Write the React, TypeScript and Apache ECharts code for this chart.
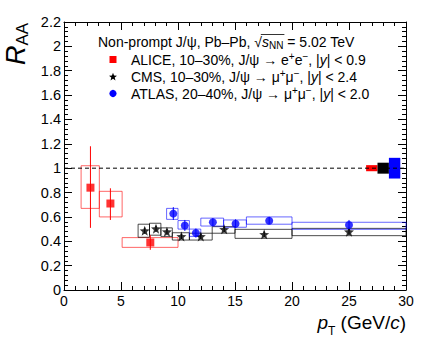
import React, { useEffect, useRef } from 'react';
import * as echarts from 'echarts';

// ALICE 10-30%, J/psi -> e+e-
const aliceX = [2.32, 4.07, 7.57];
const aliceY = [0.84, 0.71, 0.39];
const aliceStatLo = [0.51, 0.575, 0.33];
const aliceStatHi = [1.18, 0.835, 0.45];
const aliceBinLo = [1.5, 3.1, 5.1];
const aliceBinHi = [3.1, 5.1, 10.0];
const aliceSysLo = [0.67, 0.60, 0.35];
const aliceSysHi = [1.02, 0.81, 0.43];

// CMS 10-30%, J/psi -> mu+mu-
const cmsX = [7.08, 8.07, 9.03, 10.3, 12.0, 14.05, 17.56, 25.0];
const cmsY = [0.487, 0.503, 0.479, 0.44, 0.44, 0.498, 0.457, 0.479];
const cmsStatLo = [0.462, 0.478, 0.456, 0.418, 0.418, 0.474, 0.434, 0.452];
const cmsStatHi = [0.512, 0.528, 0.502, 0.462, 0.462, 0.522, 0.48, 0.506];
const cmsBinLo = [6.5, 7.5, 8.5, 9.5, 11, 13, 15, 20];
const cmsBinHi = [7.5, 8.5, 9.5, 11, 13, 15, 20, 30];
const cmsSysLo = [0.433, 0.45, 0.44, 0.41, 0.41, 0.466, 0.424, 0.446];
const cmsSysHi = [0.54, 0.548, 0.51, 0.47, 0.466, 0.52, 0.498, 0.506];

// ATLAS 20-40%, J/psi -> mu+mu-
const atlasX = [9.59, 10.6, 11.57, 13.06, 15.05, 18.0, 25.0];
const atlasY = [0.627, 0.53, 0.468, 0.556, 0.544, 0.569, 0.534];
const atlasStatLo = [0.575, 0.485, 0.43, 0.525, 0.51, 0.54, 0.49];
const atlasStatHi = [0.68, 0.575, 0.505, 0.59, 0.58, 0.60, 0.575];
const atlasBinLo = [9, 10, 11, 12, 14, 16, 20];
const atlasBinHi = [10, 11, 12, 14, 16, 20, 30];
const atlasSysLo = [0.58, 0.50, 0.44, 0.525, 0.515, 0.54, 0.498];
const atlasSysHi = [0.67, 0.57, 0.50, 0.59, 0.575, 0.60, 0.556];

// Global (normalisation) uncertainties drawn around unity
const globalLo = [26.5, 27.5, 28.5];
const globalHi = [27.5, 28.5, 29.5];
const globalUnc = [0.025, 0.045, 0.085];
const globalColors = ['#ff0000', '#000000', '#0000ff'];

const xTicks = [0, 30, 5];
const yTicks = [0, 2.2, 0.2];

const FONT = 'Liberation Sans';
const LFS = 14; // legend font size
const LSUB = 10;

const starPts = (cx: number, cy: number, R: number, r: number) => {
  const pts: number[][] = [];
  for (let k = 0; k < 10; k++) {
    const a = -Math.PI / 2 + (k * Math.PI) / 5;
    const rad = k % 2 === 0 ? R : r;
    pts.push([cx + rad * Math.cos(a), cy + rad * Math.sin(a)]);
  }
  return pts;
};
const starPath =
  'path://' +
  starPts(10, 10, 10, 4.2)
    .map((p, i) => (i === 0 ? 'M' : 'L') + p[0].toFixed(2) + ',' + p[1].toFixed(2))
    .join(' ') +
  ' Z';

function boxSeries(lo: number[], hi: number[], ylo: number[], yhi: number[], stroke: string, z: number) {
  return {
    type: 'custom',
    silent: true,
    z,
    data: lo.map((l, i) => [l, hi[i], ylo[i], yhi[i]]),
    encode: { x: [0, 1], y: [2, 3] },
    renderItem: (_p: any, api: any) => {
      const a = api.coord([api.value(0), api.value(3)]);
      const b = api.coord([api.value(1), api.value(2)]);
      return {
        type: 'rect',
        shape: { x: a[0], y: a[1], width: b[0] - a[0], height: b[1] - a[1] },
        style: { fill: 'none', stroke, lineWidth: 1 },
      };
    },
  };
}

function errSeries(x: number[], lo: number[], hi: number[], color: string, z: number) {
  return {
    type: 'custom',
    silent: true,
    z,
    data: x.map((v, i) => [v, lo[i], hi[i]]),
    encode: { x: 0, y: [1, 2] },
    renderItem: (_p: any, api: any) => {
      const a = api.coord([api.value(0), api.value(1)]);
      const b = api.coord([api.value(0), api.value(2)]);
      return {
        type: 'line',
        shape: { x1: a[0], y1: a[1], x2: b[0], y2: b[1] },
        style: { stroke: color, lineWidth: 1 },
      };
    },
  };
}

export default function App() {
  const ref = useRef<HTMLDivElement>(null);
  useEffect(() => {
    const chart = echarts.init(ref.current!, null, { renderer: 'svg' });

    const axisBase = {
      type: 'value',
      axisLine: { show: true, onZero: false, lineStyle: { color: '#000', width: 1 } },
      axisTick: { show: true, inside: true, length: 8, lineStyle: { color: '#000', width: 1 } },
      minorTick: { show: true, splitNumber: 5, length: 4, lineStyle: { color: '#000', width: 1 } },
      splitLine: { show: false },
    };
    const xBase = { ...axisBase, min: xTicks[0], max: xTicks[1], interval: xTicks[2] };
    const yBase = { ...axisBase, min: yTicks[0], max: yTicks[1], interval: yTicks[2] };

    // measure header to place the overline of the square root
    const cv = document.createElement('canvas').getContext('2d')!;
    cv.font = `${LFS}px "${FONT}"`;
    const wPre = cv.measureText('Non-prompt J/ψ, Pb–Pb, ').width;
    const wRt = cv.measureText('√').width;
    cv.font = `italic ${LFS}px "${FONT}"`;
    const wS = cv.measureText('s').width;
    cv.font = `${LSUB}px "${FONT}"`;
    const wNN = cv.measureText('NN').width;
    const headX = 98;
    const olX1 = headX + wPre + wRt * 0.85;
    const olX2 = headX + wPre + wRt + wS + wNN + 1;

    const legendRich = {
      sup: { fontSize: LSUB, lineHeight: LSUB, verticalAlign: 'top', fontFamily: FONT, fill: '#000' },
      sub: { fontSize: LSUB, lineHeight: LSUB, verticalAlign: 'bottom', fontFamily: FONT, fill: '#000' },
      i: { fontSize: LFS, lineHeight: 17, fontStyle: 'italic', fontFamily: FONT, fill: '#000' },
    };
    const legendText = (y: number, text: string, x = 131) => ({
      type: 'text',
      x,
      y,
      silent: true,
      style: {
        text,
        fontSize: LFS,
        lineHeight: 17,
        fontFamily: FONT,
        fill: '#000',
        align: 'left',
        verticalAlign: 'middle',
        rich: legendRich,
      },
    });

    const option: any = {
      animation: false,
      grid: { left: 64, right: 26, top: 22, bottom: 48, containLabel: false },
      xAxis: [
        {
          ...xBase,
          position: 'bottom',
          axisLabel: { show: true, fontSize: 14, fontFamily: FONT, color: '#000', margin: 4 },
        },
        { ...xBase, position: 'top', axisLabel: { show: false } },
      ],
      yAxis: [
        {
          ...yBase,
          position: 'left',
          axisLabel: { show: true, fontSize: 14.5, fontFamily: FONT, color: '#000', margin: 3 },
        },
        { ...yBase, position: 'right', axisLabel: { show: false } },
      ],
      series: [
        boxSeries(aliceBinLo, aliceBinHi, aliceSysLo, aliceSysHi, 'rgba(255,0,0,0.6)', 2),
        boxSeries(cmsBinLo, cmsBinHi, cmsSysLo, cmsSysHi, 'rgba(0,0,0,0.7)', 2),
        boxSeries(atlasBinLo, atlasBinHi, atlasSysLo, atlasSysHi, 'rgba(0,0,255,0.6)', 2),
        errSeries(aliceX, aliceStatLo, aliceStatHi, '#ff0000', 3),
        errSeries(cmsX, cmsStatLo, cmsStatHi, '#000000', 3),
        errSeries(atlasX, atlasStatLo, atlasStatHi, '#0000ff', 3),
        {
          type: 'scatter',
          z: 4,
          silent: true,
          symbol: 'rect',
          symbolSize: 8,
          itemStyle: { color: '#ff0000' },
          data: aliceX.map((x, i) => [x, aliceY[i]]),
        },
        {
          type: 'scatter',
          z: 4,
          silent: true,
          symbol: starPath,
          symbolSize: 10,
          itemStyle: { color: '#000000' },
          data: cmsX.map((x, i) => [x, cmsY[i]]),
        },
        {
          type: 'scatter',
          z: 4,
          silent: true,
          symbol: 'circle',
          symbolSize: 8,
          itemStyle: { color: '#0000ff' },
          data: atlasX.map((x, i) => [x, atlasY[i]]),
        },
        {
          type: 'custom',
          silent: true,
          z: 5,
          data: globalLo.map((l, i) => [l, globalHi[i], 1 - globalUnc[i], 1 + globalUnc[i], i]),
          encode: { x: [0, 1], y: [2, 3] },
          renderItem: (_p: any, api: any) => {
            const a = api.coord([api.value(0), api.value(3)]);
            const b = api.coord([api.value(1), api.value(2)]);
            const c = globalColors[api.value(4)];
            return {
              type: 'rect',
              shape: { x: a[0], y: a[1], width: b[0] - a[0], height: b[1] - a[1] },
              style: { fill: c, stroke: 'none' },
            };
          },
        },
        {
          type: 'line',
          z: 6,
          silent: true,
          showSymbol: false,
          symbol: 'none',
          data: [
            [0, 1],
            [30, 1],
          ],
          lineStyle: { color: '#000', width: 1, type: [4, 3] },
        },
      ],
      graphic: [
        {
          type: 'text',
          x: headX,
          y: 42,
          silent: true,
          style: {
            text: 'Non-prompt J/ψ, Pb–Pb, √{i|s}{sub|NN} = 5.02 TeV',
            fontSize: LFS,
            lineHeight: 17,
            fontFamily: FONT,
            fill: '#000',
            align: 'left',
            verticalAlign: 'middle',
            rich: legendRich,
          },
        },
        {
          type: 'line',
          silent: true,
          shape: { x1: olX1, y1: 34.5, x2: olX2, y2: 34.5 },
          style: { stroke: '#000', lineWidth: 0.8 },
        },
        legendText(59.5, 'ALICE, 10–30%, J/ψ → e{sup|+}e{sup|−}, |{i|y}| < 0.9'),
        legendText(76.5, 'CMS, 10–30%, J/ψ → μ{sup|+}μ{sup|−}, |{i|y}| < 2.4'),
        legendText(93.5, 'ATLAS, 20–40%, J/ψ → μ{sup|+}μ{sup|−}, |{i|y}| < 2.0'),
        {
          type: 'rect',
          silent: true,
          shape: { x: 109.5, y: 56, width: 7, height: 7 },
          style: { fill: '#ff0000' },
        },
        {
          type: 'polygon',
          silent: true,
          shape: { points: starPts(113, 77, 4.2, 1.8) },
          style: { fill: '#000' },
        },
        {
          type: 'circle',
          silent: true,
          shape: { cx: 113, cy: 93.5, r: 3.6 },
          style: { fill: '#0000ff' },
        },
        {
          type: 'text',
          x: 16,
          y: 44,
          rotation: Math.PI / 2,
          silent: true,
          style: {
            text: '{r|R}{s|AA}',
            align: 'center',
            verticalAlign: 'middle',
            rich: {
              r: { fontSize: 27, lineHeight: 30, fontStyle: 'italic', fontFamily: FONT, fill: '#000' },
              s: { fontSize: 17, lineHeight: 17, verticalAlign: 'bottom', fontFamily: FONT, fill: '#000' },
            },
          },
        },
        {
          type: 'text',
          x: 406,
          y: 322,
          silent: true,
          style: {
            text: '{i|p}{s|T} (GeV/{i|c})',
            fontSize: 19,
            lineHeight: 30,
            fontFamily: FONT,
            fill: '#000',
            align: 'right',
            verticalAlign: 'middle',
            rich: {
              i: { fontSize: 19, lineHeight: 30, fontStyle: 'italic', fontFamily: FONT, fill: '#000' },
              s: { fontSize: 12, lineHeight: 12, verticalAlign: 'bottom', fontFamily: FONT, fill: '#000' },
            },
          },
        },
      ],
    };

    chart.setOption(option);
    return () => chart.dispose();
  }, []);

  return (
    <div
      ref={ref}
      style={{ position: 'fixed', left: 0, top: 0, width: 432, height: 338, background: '#fff' }}
    />
  );
}
